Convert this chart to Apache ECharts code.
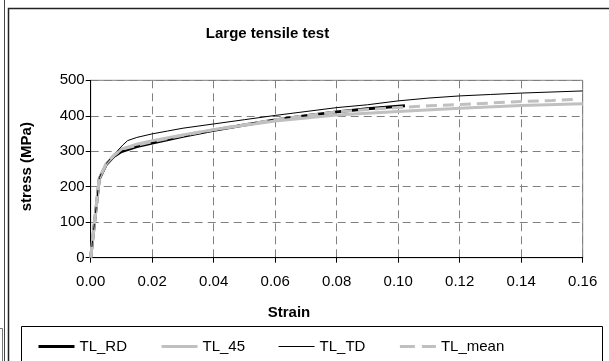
<!DOCTYPE html>
<html><head><meta charset="utf-8">
<script src="https://cdn.jsdelivr.net/npm/echarts@6/dist/echarts.min.js"></script>
<style>html,body{margin:0;padding:0;background:#fff}#c{width:609px;height:361px}</style>
</head><body><div id="c"></div>
<script>
var FONT = "'Liberation Sans', Arial, sans-serif";
var titleText = "Large tensile test";
var xName = "Strain";
var yName = "stress (MPa)";
var xTicks = [0, 0.02, 0.04, 0.06, 0.08, 0.10, 0.12, 0.14, 0.16];
var yTicks = [0, 100, 200, 300, 400, 500];

var rdStrain = [0, 0.0028, 0.005, 0.0075, 0.010, 0.015, 0.020, 0.030, 0.040, 0.050, 0.060, 0.070, 0.080, 0.090, 0.1022];
var rdStress = [0, 222, 262, 285, 299, 313, 323, 342, 359, 374, 388, 400, 411, 420, 428];

var s45Strain = [0, 0.0028, 0.005, 0.0075, 0.010, 0.015, 0.020, 0.030, 0.040, 0.050, 0.060, 0.070, 0.080, 0.090, 0.100, 0.120, 0.140, 0.160];
var s45Stress = [0, 224, 264, 288, 306, 320, 330, 346, 361, 373, 385, 394, 402, 407, 412, 421, 429, 434];

var tdStrain = [0, 0.0028, 0.005, 0.0075, 0.0105, 0.012, 0.015, 0.020, 0.025, 0.030, 0.040, 0.050, 0.060, 0.070, 0.080, 0.090, 0.100, 0.110, 0.120, 0.130, 0.140, 0.150, 0.160];
var tdStress = [0, 226, 265, 290, 318, 330, 339, 349, 357, 365, 377, 389, 401, 412, 423, 431, 442, 450, 456, 460, 464, 467, 470];

var meanStrain = [0, 0.0028, 0.005, 0.0075, 0.010, 0.015, 0.020, 0.030, 0.040, 0.050, 0.060, 0.070, 0.080, 0.090, 0.100, 0.110, 0.120, 0.130, 0.140, 0.150, 0.157];
var meanStress = [0, 224, 264, 288, 305, 317, 327, 345, 361, 375, 389, 400, 411, 418, 423, 428, 432, 436, 440, 443, 446];

function pairs(xs, ys){ return xs.map(function(x,i){ return [x, ys[i]]; }); }

var chart = echarts.init(document.getElementById('c'), null, {renderer:'canvas'});
chart.setOption({
  animation: false,
  backgroundColor: '#fff',
  textStyle: {fontFamily: FONT},
  grid: {left: 90.7, right: 26.3, top: 80.3, bottom: 103.3, show: true, borderColor: '#808080', borderWidth: 1},
  xAxis: {
    type: 'value', min: xTicks[0], max: xTicks[xTicks.length-1], interval: 0.02,
    axisLine: {lineStyle: {color: '#000', width: 1}},
    axisTick: {show: true, inside: false, length: 5, lineStyle: {color: '#000'}},
    axisLabel: {color: '#000', fontSize: 15, fontFamily: FONT, margin: 17, formatter: function(v){ return v.toFixed(2); }},
    splitLine: {show: true, lineStyle: {color: '#808080', type: [8,5], width: 1}}
  },
  yAxis: {
    type: 'value', min: yTicks[0], max: yTicks[yTicks.length-1], interval: 100,
    axisLine: {show: true, lineStyle: {color: '#000', width: 1}},
    axisTick: {show: true, inside: false, length: 5, lineStyle: {color: '#000'}},
    axisLabel: {color: '#000', fontSize: 15, fontFamily: FONT, margin: 6},
    splitLine: {show: true, lineStyle: {color: '#808080', type: [8,5], width: 1}}
  },
  legend: {
    left: 37, top: 339, padding: 0, itemWidth: 36, itemHeight: 14, itemGap: 33,
    itemStyle: {opacity: 0},
    textStyle: {color: '#000', fontSize: 15, fontFamily: FONT},
    data: [
      {name: 'TL_RD', lineStyle: {width: 3}},
      {name: 'TL_45', lineStyle: {width: 3}},
      {name: 'TL_TD', lineStyle: {width: 1}},
      {name: 'TL_mean', lineStyle: {width: 3, type: [15,7]}}
    ]
  },
  series: [
    {name: 'TL_RD', type: 'line', symbol: 'none', data: pairs(rdStrain, rdStress), lineStyle: {color: '#000', width: 3}, itemStyle: {color: '#000'}},
    {name: 'TL_45', type: 'line', symbol: 'none', data: pairs(s45Strain, s45Stress), lineStyle: {color: '#c0c0c0', width: 3}, itemStyle: {color: '#c0c0c0'}},
    {name: 'TL_TD', type: 'line', symbol: 'none', data: pairs(tdStrain, tdStress), lineStyle: {color: '#000', width: 1}, itemStyle: {color: '#000'}},
    {name: 'TL_mean', type: 'line', symbol: 'none', data: pairs(meanStrain, meanStress), lineStyle: {color: '#c0c0c0', width: 3, type: [11,6]}, itemStyle: {color: '#c0c0c0'}}
  ],
  graphic: [
    {type: 'line', shape: {x1: 4.5, y1: 0, x2: 4.5, y2: 361}, style: {stroke: '#444', lineWidth: 1}},
    {type: 'rect', shape: {x: 8.5, y: 8.5, width: 640, height: 400}, style: {fill: 'none', stroke: '#222', lineWidth: 1.5}},
    {type: 'polyline', shape: {points: [[0, 328.5], [2.5, 328.5], [2.5, 361]]}, style: {stroke: '#777', lineWidth: 1, fill: 'none'}},
    {type: 'rect', shape: {x: 21.5, y: 326.5, width: 581, height: 60}, style: {fill: 'none', stroke: '#000', lineWidth: 1}},
    {type: 'text', position: [267.5, 34], style: {text: titleText, font: 'bold 15px ' + FONT, fill: '#000', textAlign: 'center', textVerticalAlign: 'middle'}},
    {type: 'text', position: [289, 313], style: {text: xName, font: 'bold 15px ' + FONT, fill: '#000', textAlign: 'center', textVerticalAlign: 'middle'}},
    {type: 'text', position: [26.7, 166.7], rotation: Math.PI/2, style: {text: yName, font: 'bold 15px ' + FONT, fill: '#000', textAlign: 'center', textVerticalAlign: 'middle'}}
  ]
});
</script>
</body></html>
